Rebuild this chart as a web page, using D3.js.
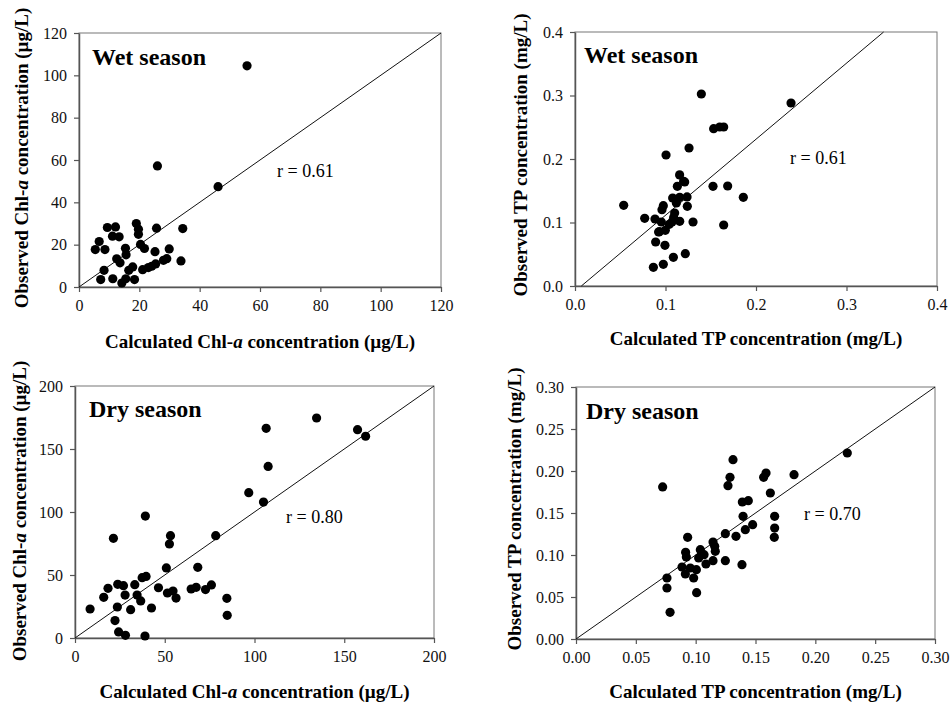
<!DOCTYPE html>
<html>
<head>
<meta charset="utf-8">
<script src="https://cdn.jsdelivr.net/npm/d3@7"></script>
<style>
  html, body { margin: 0; padding: 0; background: #fff; }
  svg { display: block; }
  svg text { font-family: "Liberation Serif", "Times New Roman", Times, "DejaVu Serif", serif; }
</style>
</head>
<body>
<script>
// Wet season, Chl-a (ug/L)
const wetChlCalc = [55.7, 26.0, 46.1, 34.4, 25.7, 19.0, 19.7, 19.7, 9.4, 12.1, 11.1, 13.3, 6.7, 5.4, 8.6, 15.4, 15.6, 20.4, 21.7, 25.2, 29.9, 12.5, 13.6, 33.8, 29.1, 28.0, 25.4, 24.1, 23.0, 21.1, 17.8, 16.5, 8.3, 7.2, 11.2, 15.5, 18.4, 14.2];
const wetChlObs = [104.5, 57.2, 47.4, 27.6, 27.8, 30.0, 27.3, 24.9, 28.1, 28.4, 24.0, 23.7, 21.5, 17.7, 17.7, 18.3, 15.2, 20.1, 18.2, 16.7, 18.0, 13.3, 11.4, 12.3, 13.4, 12.6, 10.9, 9.8, 9.2, 8.2, 9.5, 7.9, 7.9, 3.5, 3.9, 3.9, 3.5, 1.9];

// Wet season, TP (mg/L)
const wetTpCalc = [0.1396, 0.2387, 0.1532, 0.1599, 0.1643, 0.1260, 0.1006, 0.1156, 0.1212, 0.1131, 0.1525, 0.1687, 0.1860, 0.1079, 0.1157, 0.1238, 0.1120, 0.1241, 0.0538, 0.0976, 0.0961, 0.1101, 0.0770, 0.0884, 0.0954, 0.1072, 0.1157, 0.1304, 0.1643, 0.1042, 0.0998, 0.0932, 0.0891, 0.0994, 0.1219, 0.1087, 0.0976, 0.0866, 0.1090, 0.1200, 0.0924];
const wetTpObs = [0.3024, 0.2882, 0.2478, 0.2504, 0.2504, 0.2173, 0.2063, 0.1750, 0.1638, 0.1570, 0.1570, 0.1575, 0.1396, 0.1386, 0.1396, 0.1402, 0.1307, 0.1255, 0.1270, 0.1265, 0.1202, 0.1150, 0.1066, 0.1055, 0.1008, 0.1008, 0.1018, 0.1008, 0.0961, 0.0971, 0.0877, 0.0856, 0.0693, 0.0640, 0.0509, 0.0451, 0.0341, 0.0294, 0.1080, 0.1650, 0.0850];

// Dry season, Chl-a (ug/L)
const dryChlCalc = [134.6, 106.5, 157.4, 161.9, 107.6, 96.8, 105.0, 39.2, 78.4, 53.2, 52.6, 21.4, 50.9, 68.4, 39.6, 37.4, 23.8, 27.0, 33.3, 18.4, 46.5, 27.9, 34.6, 16.0, 36.6, 51.5, 54.6, 56.3, 64.7, 67.5, 72.7, 76.0, 84.6, 84.8, 8.4, 23.6, 31.0, 42.6, 22.3, 24.3, 28.1, 39.0];
const dryChlObs = [174.6, 166.4, 165.3, 160.1, 136.2, 115.3, 107.9, 96.8, 81.2, 81.2, 74.6, 79.1, 55.6, 56.1, 48.9, 47.9, 42.6, 41.5, 42.3, 39.4, 39.9, 34.1, 34.1, 32.3, 29.4, 35.7, 37.3, 31.7, 38.9, 40.2, 38.4, 42.1, 31.5, 18.0, 23.0, 24.6, 22.5, 23.8, 13.8, 4.8, 2.1, 1.6];

// Dry season, TP (mg/L)
const dryTpCalc = [0.2267, 0.1312, 0.1588, 0.1568, 0.1822, 0.1287, 0.1270, 0.0724, 0.1624, 0.1390, 0.1440, 0.1396, 0.1660, 0.1660, 0.1657, 0.1476, 0.1415, 0.1337, 0.1248, 0.0933, 0.1145, 0.1159, 0.1164, 0.1039, 0.1070, 0.0916, 0.0922, 0.1025, 0.1086, 0.1145, 0.1248, 0.1387, 0.0886, 0.0955, 0.0914, 0.1006, 0.0983, 0.0760, 0.0760, 0.1008, 0.0786, 0.1047];
const dryTpObs = [0.2214, 0.2135, 0.1976, 0.1925, 0.1956, 0.1925, 0.1825, 0.1810, 0.1738, 0.1631, 0.1647, 0.1460, 0.1460, 0.1321, 0.1210, 0.1361, 0.1302, 0.1222, 0.1254, 0.1210, 0.1155, 0.1103, 0.1044, 0.1063, 0.1004, 0.1032, 0.0976, 0.0964, 0.0893, 0.0933, 0.0933, 0.0885, 0.0857, 0.0845, 0.0774, 0.0825, 0.0726, 0.0726, 0.0607, 0.0552, 0.0317, 0.1004];

// reference lines (endpoints in data units)
const chlWetLine = [[0, 0], [120, 120]];
const tpWetLine = [[0.007, 0], [0.341, 0.4]];
const chlDryLine = [[0, 0], [200, 200]];
const tpDryLine = [[0, 0], [0.3, 0.3]];

// ticks
const chlWetTicks = [0, 20, 40, 60, 80, 100, 120];
const tpWetTicks = [0, 0.1, 0.2, 0.3, 0.4];
const chlDryTicks = [0, 50, 100, 150, 200];
const tpDryTicks = [0, 0.05, 0.10, 0.15, 0.20, 0.25, 0.30];

const seasonLabels = ['Wet season', 'Wet season', 'Dry season', 'Dry season'];
const rLabels = ['r = 0.61', 'r = 0.61', 'r = 0.80', 'r = 0.70'];

const AXIS_COLOR = '#555';

const svg = d3.select('body')
    .append('svg')
    .attr('width', 950)
    .attr('height', 705);

svg.append('rect')
    .attr('width', 950)
    .attr('height', 705)
    .attr('fill', 'white');

// layout of each panel (pixels)
const panels = [
    { box: [79, 441, 33, 287], calc: wetChlCalc, obs: wetChlObs, line: chlWetLine, ticks: chlWetTicks, fmt: d3.format('d'),
      kind: 'chl', season: seasonLabels[0], r: rLabels[0], seasonPos: [92, 65], rPos: [277, 177], yTitleX: 28, yTitleC: 158, xTitleY: 348 },
    { box: [575, 937, 32, 286], calc: wetTpCalc, obs: wetTpObs, line: tpWetLine, ticks: tpWetTicks, fmt: d3.format('.1f'),
      kind: 'tp', season: seasonLabels[1], r: rLabels[1], seasonPos: [584, 63], rPos: [790, 164], yTitleX: 527, yTitleC: 155, xTitleY: 345 },
    { box: [75, 434, 386, 638], calc: dryChlCalc, obs: dryChlObs, line: chlDryLine, ticks: chlDryTicks, fmt: d3.format('d'),
      kind: 'chl', season: seasonLabels[2], r: rLabels[2], seasonPos: [89, 417], rPos: [286, 523], yTitleX: 26, yTitleC: 511, xTitleY: 698 },
    { box: [576, 935, 387, 639], calc: dryTpCalc, obs: dryTpObs, line: tpDryLine, ticks: tpDryTicks, fmt: d3.format('.2f'),
      kind: 'tp', season: seasonLabels[3], r: rLabels[3], seasonPos: [586, 419], rPos: [804, 520], yTitleX: 521, yTitleC: 509, xTitleY: 698 }
];

function addTitle(sel, prefix, kind) {
    if (kind === 'chl') {
        sel.append('tspan').text(prefix + ' Chl-');
        sel.append('tspan').style('font-style', 'italic').text('a');
        sel.append('tspan').text(' concentration (\u00b5g/L)');
    } else {
        sel.text(prefix + ' TP concentration (mg/L)');
    }
}

panels.forEach(p => {
    const [x0, x1, y0, y1] = p.box;
    const dom = [p.ticks[0], p.ticks[p.ticks.length - 1]];
    const x = d3.scaleLinear().domain(dom).range([x0, x1]);
    const y = d3.scaleLinear().domain(dom).range([y1, y0]);

    const g = svg.append('g');

    // frame
    g.append('rect')
        .attr('x', x0)
        .attr('y', y0)
        .attr('width', x1 - x0)
        .attr('height', y1 - y0)
        .attr('fill', 'none')
        .attr('stroke', '#777')
        .attr('stroke-width', 1);

    // axes
    const xAxis = g.append('g')
        .attr('transform', `translate(0,${y1})`)
        .call(d3.axisBottom(x).tickValues(p.ticks).tickFormat(p.fmt).tickSize(5).tickSizeOuter(0).tickPadding(8));
    const yAxis = g.append('g')
        .attr('transform', `translate(${x0},0)`)
        .call(d3.axisLeft(y).tickValues(p.ticks).tickFormat(p.fmt).tickSize(5).tickSizeOuter(0).tickPadding(7));
    [xAxis, yAxis].forEach(a => {
        a.attr('font-family', null).attr('font-size', null);
        a.select('.domain').attr('stroke', AXIS_COLOR).attr('stroke-width', 1.5);
        a.selectAll('.tick line').attr('stroke', AXIS_COLOR).attr('stroke-width', 1.2);
        a.selectAll('.tick text')
            .attr('fill', '#111')
            .style('font-size', '16px');
    });

    // 1:1 / reference line
    g.append('path')
        .datum(p.line)
        .attr('fill', 'none')
        .attr('stroke', '#111')
        .attr('stroke-width', 1)
        .attr('d', d3.line().x(d => x(d[0])).y(d => y(d[1])));

    // points
    g.selectAll('circle.pt')
        .data(d3.zip(p.calc, p.obs))
        .join('circle')
        .attr('class', 'pt')
        .attr('cx', d => x(d[0]))
        .attr('cy', d => y(d[1]))
        .attr('r', 4.6)
        .attr('fill', '#000');

    // season label
    g.append('text')
        .attr('x', p.seasonPos[0])
        .attr('y', p.seasonPos[1])
        .style('font-size', '24px')
        .style('font-weight', 'bold')
        .text(p.season);

    // r label
    g.append('text')
        .attr('x', p.rPos[0])
        .attr('y', p.rPos[1])
        .style('font-size', '18px')
        .text(p.r);

    // axis titles
    const xt = g.append('text')
        .attr('x', (x0 + x1) / 2)
        .attr('y', p.xTitleY)
        .attr('text-anchor', 'middle')
        .style('font-size', '19px')
        .style('font-weight', 'bold');
    addTitle(xt, 'Calculated', p.kind);

    const yt = g.append('text')
        .attr('transform', `translate(${p.yTitleX},${p.yTitleC}) rotate(-90)`)
        .attr('text-anchor', 'middle')
        .style('font-size', '19px')
        .style('font-weight', 'bold');
    addTitle(yt, 'Observed', p.kind);
});
</script>
</body>
</html>
